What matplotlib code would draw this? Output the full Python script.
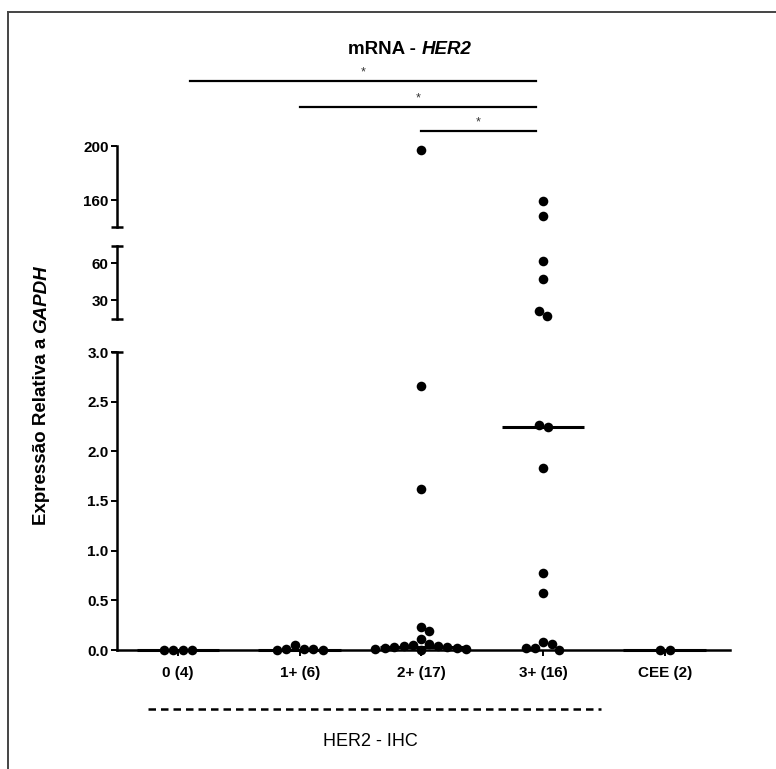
import numpy as np
import matplotlib
matplotlib.use('Agg')
import matplotlib.pyplot as plt
from matplotlib.transforms import blended_transform_factory
from matplotlib.lines import Line2D

plt.rcParams['font.family'] = ['Liberation Sans', 'DejaVu Sans']
plt.rcParams['font.weight'] = 'bold'

# ---------------- data ----------------
categories = ['0 (4)', '1+ (6)', '2+ (17)', '3+ (16)', 'CEE (2)']
vals_0 = [0.0, 0.0, 0.0, 0.0]
vals_1 = [0.05, 0.01, 0.0, 0.01, 0.0, 0.01]
vals_2 = [197, 2.66, 1.62, 0.23, 0.19, 0.11, 0.06, 0.05, 0.04, 0.04,
          0.03, 0.03, 0.02, 0.02, 0.01, 0.01, 0.0]
vals_3 = [159, 148, 62, 47, 21, 17, 2.27, 2.24, 1.83, 0.78, 0.57,
          0.08, 0.06, 0.02, 0.02, 0.0]
vals_cee = [0.0, 0.0]
groups = [vals_0, vals_1, vals_2, vals_3, vals_cee]
center_lines = [0.0, 0.0, 0.03, 2.24, 0.0]

top_ticks = [160, 200]
mid_ticks = [30, 60]
bot_ticks = [0.0, 0.5, 1.0, 1.5, 2.0, 2.5, 3.0]
top_lim = (140, 200)
mid_lim = (14.6, 73.8)
bot_lim = (0.0, 3.0)

sig_pairs = [(0, 3), (1, 3), (2, 3)]
sig_marks = ['*', '*', '*']

title_plain = 'mRNA - '
title_ital = 'HER2'
ylab_plain = 'Expressão Relativa a '
ylab_ital = 'GAPDH'
xlab = 'HER2 - IHC'

# ---------------- layout ----------------
W, H = 776, 769
fig = plt.figure(figsize=(W / 100, H / 100), dpi=100)
X0, X1 = 117, 730
CAT0, SP = 178, 121.7


def rect(ytop, ybot):
    return [X0 / W, 1 - ybot / H, (X1 - X0) / W, (ybot - ytop) / H]


ax_top = fig.add_axes(rect(146, 227))
ax_mid = fig.add_axes(rect(246, 319))
ax_bot = fig.add_axes(rect(352, 650))
axes = [ax_top, ax_mid, ax_bot]
lims = [top_lim, mid_lim, bot_lim]
ticks = [top_ticks, mid_ticks, bot_ticks]
fmts = ['{:.0f}', '{:.0f}', '{:.1f}']

xl = -(CAT0 - X0) / SP
xr = xl + (X1 - X0) / SP
SPW = 1.8
for ax, lim, tk, fm in zip(axes, lims, ticks, fmts):
    ax.set_xlim(xl, xr)
    ax.set_ylim(*lim)
    for s in ['top', 'right']:
        ax.spines[s].set_visible(False)
    ax.spines['left'].set_linewidth(SPW)
    ax.set_yticks(tk)
    ax.set_yticklabels([fm.format(t) for t in tk])
    ax.tick_params(axis='y', direction='out', length=4.5, width=1.4,
                   labelsize=11, pad=1.5)
    ax.patch.set_alpha(0)
    if ax is not ax_bot:
        ax.spines['bottom'].set_visible(False)
        ax.set_xticks([])

ax_bot.spines['bottom'].set_linewidth(SPW)
ax_bot.set_xticks(range(len(categories)))
ax_bot.set_xticklabels(categories)
ax_bot.tick_params(axis='x', direction='out', length=4.5, width=1.4,
                   labelsize=11, pad=7)

# caps at segment ends
cap = 6 / (X1 - X0)
for ax, yv in [(ax_top, top_lim[0]), (ax_mid, mid_lim[1]), (ax_mid, mid_lim[0]),
               (ax_bot, bot_lim[1])]:
    tr = blended_transform_factory(ax.transAxes, ax.transData)
    ax.plot([-cap, cap], [yv, yv], color='black', lw=SPW, transform=tr,
            clip_on=False, solid_capstyle='butt')


def seg_of(v):
    if v >= top_lim[0]:
        return ax_top
    if v >= mid_lim[0]:
        return ax_mid
    return ax_bot


D = 9.5


def swarm(ypix):
    n = len(ypix)
    xs = np.zeros(n)
    placed = []
    for i in np.argsort(-ypix):
        y = ypix[i]
        cands = [0.0]
        for xp, yp in placed:
            dy = y - yp
            if abs(dy) < D:
                dx = np.sqrt(D * D - dy * dy)
                cands += [xp + dx, xp - dx]
        best = 0.0
        for c in sorted(cands, key=lambda c: (abs(c), -c)):
            if all((c - xp) ** 2 + (y - yp) ** 2 >= D * D - 1e-6 for xp, yp in placed):
                best = c
                break
        xs[i] = best
        placed.append((best, y))
    parent = list(range(n))

    def find(a):
        while parent[a] != a:
            a = parent[a]
        return a
    for i in range(n):
        for j in range(i + 1, n):
            if np.hypot(xs[i] - xs[j], ypix[i] - ypix[j]) <= D * 1.3:
                parent[find(i)] = find(j)
    roots = {}
    for i in range(n):
        roots.setdefault(find(i), []).append(i)
    for members in roots.values():
        m = np.mean(xs[members])
        xs[members] -= m
    return xs


for gi, vals in enumerate(groups):
    vals = np.asarray(vals, float)
    axs = [seg_of(v) for v in vals]
    ypix = np.array([a.transData.transform((gi, v))[1] for a, v in zip(axs, vals)])
    offs = swarm(ypix) / SP
    for a, v, o in zip(axs, vals, offs):
        a.scatter([gi + o], [v], s=48, color='black', zorder=5, clip_on=False,
                  linewidths=0)

for gi, c in enumerate(center_lines):
    ax_bot.plot([gi - 0.34, gi + 0.34], [c, c], color='black', lw=2.2,
                zorder=4, clip_on=False, solid_capstyle='butt')

# significance bars
trb = blended_transform_factory(ax_top.transData, fig.transFigure)
for (a, b), mk, ypx in zip(sig_pairs, sig_marks, [81, 107, 131]):
    a0 = a + 0.1 if a == 0 else a
    b0 = b - 0.06
    fig.add_artist(Line2D([a0, b0], [1 - ypx / H, 1 - ypx / H], color='black',
                          lw=1.6, transform=trb))
    fig.text((a0 + b0) / 2, 1 - (ypx - 3) / H, mk, transform=trb, ha='center',
             va='bottom', fontsize=9, fontweight='normal', color='#333333')

# title (mixed style)
renderer = fig.canvas.get_renderer()
t1 = fig.text(0, 0, title_plain, fontsize=13.5, fontweight='bold')
t2 = fig.text(0, 0, title_ital, fontsize=13.5, fontweight='bold', style='italic')
w1 = t1.get_window_extent(renderer).width
w2 = t2.get_window_extent(renderer).width
cx = 410
left = cx - (w1 + w2) / 2
t1.set_position((left / W, 1 - 50 / H)); t1.set_va('center')
t2.set_position(((left + w1) / W, 1 - 50 / H)); t2.set_va('center')

# y label (mixed style, rotated)
l1 = fig.text(0, 0, ylab_plain, fontsize=13.5, fontweight='bold', rotation=90)
l2 = fig.text(0, 0, ylab_ital, fontsize=13.5, fontweight='bold', style='italic',
              rotation=90)
h1 = l1.get_window_extent(renderer).height
h2 = l2.get_window_extent(renderer).height
cy = 395
bottom = (H - cy) - (h1 + h2) / 2
l1.set_position((42 / W, bottom / H)); l1.set_ha('center'); l1.set_va('bottom')
l2.set_position((42 / W, (bottom + h1) / H)); l2.set_ha('center'); l2.set_va('bottom')

# dashed bracket and x label
fig.add_artist(Line2D([148 / W, 601 / W], [1 - 709 / H, 1 - 709 / H], color='black',
                      lw=1.8, linestyle=(0, (3, 2)), transform=fig.transFigure))
fig.text(370 / W, 1 - 742 / H, xlab, ha='center', va='center', fontsize=13,
         fontweight='normal')

# figure border (partial frame)
fig.add_artist(Line2D([8 / W, 8 / W], [0, 1 - 12 / H], color='#444444', lw=1.4,
                      transform=fig.transFigure))
fig.add_artist(Line2D([8 / W, 1], [1 - 12 / H, 1 - 12 / H], color='#444444', lw=1.4,
                      transform=fig.transFigure))

fig.savefig('out.png', dpi=100)
